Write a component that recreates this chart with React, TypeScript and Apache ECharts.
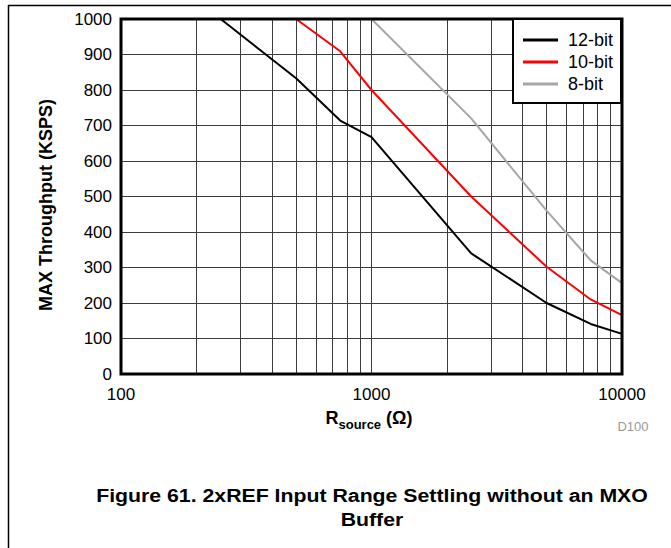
import React, { useEffect, useRef } from "react";
import * as echarts from "echarts";

const FONT = "Arial, 'Liberation Sans', Helvetica, sans-serif";

const seriesNames = ["12-bit", "10-bit", "8-bit"];
const seriesColors = ["#000000", "#ff0000", "#a6a6a6"];

const bit12: [number, number][] = [
  [250, 1000], [500, 833], [750, 714], [1000, 667], [2500, 340], [5000, 200], [7500, 141], [10000, 113],
];
const bit10: [number, number][] = [
  [500, 1000], [750, 909], [1000, 800], [2500, 500], [5000, 302], [7500, 210], [10000, 166],
];
const bit8: [number, number][] = [
  [1000, 1000], [2500, 720], [5000, 460], [7500, 320], [10000, 256],
];

const minorX = [200, 300, 400, 500, 600, 700, 800, 900, 2000, 3000, 4000, 5000, 6000, 7000, 8000, 9000];
const xTicks = [100, 1000, 10000];

const yAxisTitle = "MAX Throughput (KSPS)";
const captionLines = ["Figure 61. 2xREF Input Range Settling without an MXO", "Buffer"];
const codeLabel = "D100";

export default function App() {
  const ref = useRef<HTMLDivElement>(null);
  useEffect(() => {
    if (!ref.current) return;
    const chart = echarts.init(ref.current, undefined, { renderer: "svg" });
    const gridColor = "#3c3c3c";
    const datasets = [bit12, bit10, bit8];
    const series: any[] = datasets.map((d, i) => ({
      name: seriesNames[i],
      type: "line",
      data: d,
      showSymbol: false,
      symbol: "none",
      lineStyle: { color: seriesColors[i], width: 2 },
      itemStyle: { color: seriesColors[i] },
      z: 5 + i,
    }));
    series.push({
      name: "minor",
      type: "line",
      data: [],
      z: 1,
      markLine: {
        silent: true,
        symbol: ["none", "none"],
        label: { show: false },
        lineStyle: { color: gridColor, width: 1, type: "solid" },
        data: minorX.map((v) => ({ xAxis: v })),
      },
    });
    chart.setOption({
      animation: false,
      backgroundColor: "#ffffff",
      grid: {
        left: 121,
        right: 49,
        top: 19,
        bottom: 174,
        show: true,
        borderColor: "#000",
        borderWidth: 3,
        z: 10,
      },
      xAxis: {
        type: "log",
        logBase: 10,
        min: 100,
        max: 10000,
        axisLine: { show: false },
        axisTick: { show: false },
        splitLine: { show: true, lineStyle: { color: gridColor, width: 1 } },
        axisLabel: {
          fontFamily: FONT,
          fontSize: 17,
          color: "#000",
          margin: 12,
          customValues: xTicks,
          formatter: (v: number) => String(Math.round(v)),
        },
      },
      yAxis: {
        type: "value",
        min: 0,
        max: 1000,
        interval: 100,
        axisLine: { show: false },
        axisTick: { show: false },
        splitLine: { show: true, lineStyle: { color: gridColor, width: 1 } },
        axisLabel: {
          fontFamily: FONT,
          fontSize: 17,
          color: "#000",
          margin: 9,
          formatter: (v: number) => String(v),
        },
      },
      legend: {
        data: seriesNames,
        orient: "vertical",
        left: 513,
        top: 19,
        icon: "rect",
        backgroundColor: "#fff",
        borderColor: "#000",
        borderWidth: 2,
        borderRadius: 0,
        padding: [12, 8, 10, 10],
        itemGap: 4,
        itemWidth: 35,
        itemHeight: 3,
        textStyle: { fontFamily: FONT, fontSize: 18, color: "#000", padding: [0, 0, 0, 5] },
        z: 20,
      },
      graphic: [
        { type: "line", shape: { x1: 8, y1: 5.5, x2: 671, y2: 5.5 }, style: { stroke: "#000", lineWidth: 1.5 }, z: 30 },
        { type: "line", shape: { x1: 8.5, y1: 5, x2: 8.5, y2: 548 }, style: { stroke: "#000", lineWidth: 1.5 }, z: 30 },
        {
          type: "text",
          x: 46,
          y: 205,
          rotation: Math.PI / 2,
          style: {
            text: yAxisTitle,
            font: `bold 18px ${FONT}`,
            fill: "#000",
            align: "center",
            verticalAlign: "middle",
          },
          z: 30,
        },
        {
          type: "text",
          x: 369,
          y: 418,
          style: {
            text: "{r|R}{s|source}{r| (Ω)}",
            align: "center",
            verticalAlign: "middle",
            rich: {
              r: { font: `bold 18px ${FONT}`, fill: "#000", verticalAlign: "bottom" },
              s: { font: `bold 13px ${FONT}`, fill: "#000", verticalAlign: "bottom", padding: [0, 0, -4, 0] },
            },
          },
          z: 30,
        },
        {
          type: "text",
          x: 633,
          y: 426,
          style: {
            text: codeLabel,
            font: `13px ${FONT}`,
            fill: "#999",
            align: "center",
            verticalAlign: "middle",
          },
          z: 30,
        },
        {
          type: "text",
          x: 372,
          y: 495,
          scaleX: 1.12,
          style: {
            text: captionLines[0],
            font: `bold 19px ${FONT}`,
            fill: "#000",
            align: "center",
            verticalAlign: "middle",
          },
          z: 30,
        },
        {
          type: "text",
          x: 372,
          y: 519,
          scaleX: 1.12,
          style: {
            text: captionLines[1],
            font: `bold 19px ${FONT}`,
            fill: "#000",
            align: "center",
            verticalAlign: "middle",
          },
          z: 30,
        },
      ],
      series,
    });
    return () => chart.dispose();
  }, []);
  return (
    <div
      ref={ref}
      style={{ position: "fixed", left: 0, top: 0, width: 671, height: 548, background: "#fff" }}
    />
  );
}
